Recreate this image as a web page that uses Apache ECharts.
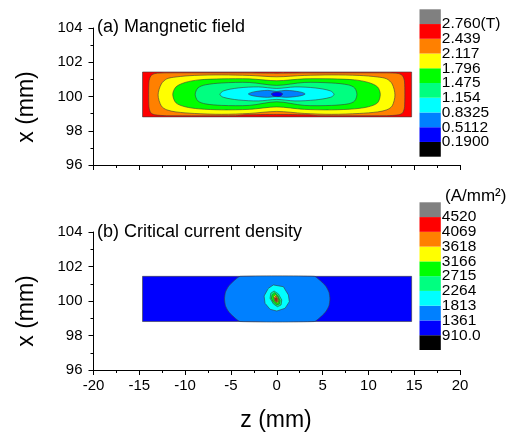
<!DOCTYPE html>
<html><head><meta charset="utf-8">
<script src="https://cdn.jsdelivr.net/npm/echarts@6/dist/echarts.min.js"></script>
<style>html,body{margin:0;padding:0;background:#fff}#c{width:516px;height:435px}</style>
</head><body><div id="c"></div>
<script>
// ---------- data ----------
const zTickRange = [-20, 20];
const xTickRange = [96, 104];
const bandColors = ['#000000','#0000ff','#0080ff','#00ffff','#00ff80','#00ff00','#ffff00','#ff8000','#ff0000','#808080'];
const fieldLevels = ['0.1900','0.5112','0.8325','1.154','1.475','1.796','2.117','2.439','2.760(T)'];
const jcLevels = ['910.0','1361','1813','2264','2715','3166','3618','4069','4520'];
const sampleZ = [-14.65, 14.72];
const sampleX = [98.81, 101.43];

// magnetic field contours: [z, x upper, x lower]
const fieldB2439 = [[-13.95,100.85,99.40],[-13.75,101.20,99.05],[-13.3,101.34,98.93],[-12.0,101.38,98.88],[-4.5,101.38,98.88],[-3.5,101.38,98.93],[0,101.36,98.95],[3.5,101.38,98.93],[4.5,101.38,98.88],[12.0,101.38,98.88],[13.3,101.34,98.93],[13.75,101.20,99.05],[13.95,100.85,99.40]];
const fieldB2117 = [[-12.95,100.09,100.09],[-12.6,100.73,99.45],[-12.0,101.03,99.22],[-11.0,101.14,99.10],[-9.0,101.23,99.01],[-6.0,101.26,98.96],[-3.0,101.23,99.01],[0,101.15,99.13],[3.0,101.23,99.01],[6.0,101.26,98.96],[9.0,101.23,99.01],[11.0,101.14,99.10],[12.0,101.03,99.22],[12.6,100.73,99.45],[12.9,100.09,100.09]];
const fieldB1796 = [[-11.35,100.12,100.12],[-11.0,100.56,99.63],[-10.0,100.82,99.40],[-8.5,100.97,99.28],[-6.0,101.03,99.22],[-3.0,101.03,99.25],[0,100.92,99.39],[3.0,101.03,99.25],[6.0,101.03,99.22],[8.5,100.97,99.28],[10.0,100.82,99.40],[11.0,100.56,99.63],[11.3,100.12,100.12]];
const fieldB1475 = [[-8.9,100.12,100.12],[-8.6,100.50,99.74],[-7.8,100.68,99.57],[-6.0,100.79,99.48],[-3.0,100.82,99.48],[0,100.65,99.69],[3.0,100.82,99.48],[6.0,100.79,99.48],[7.8,100.68,99.57],[8.5,100.50,99.74],[8.75,100.12,100.12]];
const fieldB1154 = [[-6.2,100.12,100.12],[-5.8,100.33,99.95],[-4.2,100.50,99.80],[-2.0,100.56,99.74],[0,100.47,99.83],[2.0,100.56,99.74],[4.2,100.50,99.80],[5.85,100.33,99.95],[6.25,100.12,100.12]];
const fieldB0833 = [[-3.1,100.15,100.15],[-2.5,100.27,100.03],[-1.0,100.36,99.95],[0,100.30,100.00],[1.0,100.36,99.95],[2.5,100.27,100.03],[3.1,100.15,100.15]];
const fieldB0511 = [[-0.6,100.15,100.15],[-0.3,100.24,100.01],[0.3,100.25,100.00],[0.65,100.15,100.15]];

// critical current density contours
const jc1361 = [[-5.7,100.12,100.12],[-5.6,100.51,99.73],[-5.3,100.82,99.42],[-5.0,101.01,99.23],[-4.5,101.25,98.99],[-4.0,101.43,98.81],[4.1,101.43,98.81],[4.6,101.25,98.99],[5.1,101.01,99.23],[5.4,100.82,99.42],[5.7,100.51,99.73],[5.8,100.12,100.12]];
const jc1813 = [[-1.38,100.29],[-0.91,100.74],[-0.37,100.93],[0.72,100.83],[1.27,100.35],[1.37,99.96],[0.91,99.58],[0.0,99.42],[-0.73,99.52],[-1.28,99.87]];
const jc2264 = [[-0.65,100.45],[-0.29,100.58],[0.18,100.41],[0.55,100.06],[0.47,99.77],[0.07,99.67],[-0.37,99.83],[-0.73,100.16]];
const jc2715 = [[-0.51,100.35],[-0.22,100.48],[0.14,100.29],[0.36,100.02],[0.28,99.83],[0.0,99.77],[-0.37,99.94],[-0.59,100.16]];
const jc3166 = [[-0.37,100.25],[-0.15,100.37],[0.11,100.21],[0.22,100.0],[0.07,99.87],[-0.22,99.98]];
const jc3618 = [[-0.26,100.21],[-0.08,100.29],[0.11,100.13],[0.11,99.96],[-0.08,99.94],[-0.22,100.06]];
const jc4069 = [[-0.15,100.17],[0.0,100.19],[0.03,100.06],[-0.04,99.98],[-0.15,100.06]];

// ---------- build ----------
function profileRing(p){
  const ring = p.map(q => [q[0], q[1]]);
  for (let i = p.length - 1; i >= 0; i--) { if (p[i][1] !== p[i][2]) ring.push([p[i][0], p[i][2]]); }
  return ring;
}
const rectRing = [[sampleZ[0],sampleX[0]],[sampleZ[0],sampleX[1]],[sampleZ[1],sampleX[1]],[sampleZ[1],sampleX[0]]];
const fieldShapes = [
  {ring: rectRing, band: 8, smooth: 0},
  {ring: profileRing(fieldB2439), band: 7, smooth: 0.25},
  {ring: profileRing(fieldB2117), band: 6, smooth: 0.3},
  {ring: profileRing(fieldB1796), band: 5, smooth: 0.3},
  {ring: profileRing(fieldB1475), band: 4, smooth: 0.3},
  {ring: profileRing(fieldB1154), band: 3, smooth: 0.3},
  {ring: profileRing(fieldB0833), band: 2, smooth: 0.3},
  {ring: profileRing(fieldB0511), band: 1, smooth: 0.3}
];
const jcShapes = [
  {ring: rectRing, band: 1, smooth: 0},
  {ring: profileRing(jc1361), band: 2, smooth: 0.2},
  {ring: jc1813, band: 3, smooth: 0},
  {ring: jc2264, band: 4, smooth: 0},
  {ring: jc2715, band: 5, smooth: 0},
  {ring: jc3166, band: 6, smooth: 0},
  {ring: jc3618, band: 7, smooth: 0},
  {ring: jc4069, band: 8, smooth: 0}
];
function contourSeries(shapes, gi){
  return {
    type: 'custom', xAxisIndex: gi, yAxisIndex: gi, silent: true, animation: false,
    data: shapes.map((s, i) => [0, 100, i]),
    encode: {x: 0, y: 1},
    renderItem: function(params, api){
      const s = shapes[api.value(2)];
      return {type: 'polygon', shape: {points: s.ring.map(p => api.coord(p)), smooth: s.smooth},
        style: {fill: bandColors[s.band], stroke: '#3a3a3a', lineWidth: 0.6}};
    }
  };
}
function barSeries(gi){
  return {
    type: 'custom', xAxisIndex: gi, yAxisIndex: gi, silent: true, animation: false,
    data: bandColors.map((c, i) => [0, i]),
    encode: {x: 0, y: 1},
    renderItem: function(params, api){
      const i = api.value(1);
      const a = api.coord([0, i]), b = api.coord([1, i + 1]);
      return {type: 'rect', shape: {x: a[0], y: b[1], width: b[0] - a[0], height: a[1] - b[1]},
        style: {fill: bandColors[i]}};
    }
  };
}
const font = '"Liberation Sans", Arial, sans-serif';
function mainX(gi, showLabel){
  return {type: 'value', gridIndex: gi, min: zTickRange[0], max: zTickRange[1], interval: 5,
    axisLine: {show: true, onZero: false, lineStyle: {color: '#000', width: 1}},
    axisTick: {show: true, length: 5, lineStyle: {color: '#000'}},
    minorTick: {show: true, splitNumber: 2, length: 3, lineStyle: {color: '#000'}},
    splitLine: {show: false},
    axisLabel: {show: showLabel, color: '#000', fontSize: 15, fontFamily: font, margin: 8}};
}
function mainY(gi){
  return {type: 'value', gridIndex: gi, min: xTickRange[0], max: xTickRange[1], interval: 2,
    axisLine: {show: true, onZero: false, lineStyle: {color: '#000', width: 1}},
    axisTick: {show: true, length: 5, lineStyle: {color: '#000'}},
    minorTick: {show: true, splitNumber: 2, length: 3, lineStyle: {color: '#000'}},
    splitLine: {show: false},
    axisLabel: {color: '#000', fontSize: 15, fontFamily: font, margin: 11}};
}
function barX(gi){
  return {type: 'value', gridIndex: gi, min: 0, max: 1, show: false};
}
function barY(gi, labels){
  return {type: 'value', gridIndex: gi, min: 0, max: 10, interval: 1, position: 'right',
    axisLine: {show: false}, axisTick: {show: false}, splitLine: {show: false},
    axisLabel: {color: '#000', fontSize: 15.5, fontFamily: font, margin: 1,
      formatter: v => (v >= 1 && v <= 9) ? labels[v - 1] : ''}};
}
const chart = echarts.init(document.getElementById('c'), null, {renderer: 'canvas'});
chart.setOption({
  backgroundColor: '#fff',
  animation: false,
  grid: [
    {left: 93.5, top: 28, width: 366.5, height: 137},
    {left: 93.5, top: 232, width: 366.5, height: 138},
    {left: 419.5, top: 9.3, width: 21.3, height: 147.4},
    {left: 419.5, top: 202.3, width: 21.3, height: 147.7}
  ],
  xAxis: [mainX(0, false), mainX(1, true), barX(2), barX(3)],
  yAxis: [mainY(0), mainY(1), barY(2, fieldLevels), barY(3, jcLevels)],
  series: [contourSeries(fieldShapes, 0), contourSeries(jcShapes, 1), barSeries(2), barSeries(3)],
  graphic: [
    {type: 'text', left: 97, top: 18, style: {text: '(a) Mangnetic field', font: '18px ' + font, fill: '#000'}},
    {type: 'text', left: 97, top: 223, style: {text: '(b) Critical current density', font: '18px ' + font, fill: '#000'}},
    {type: 'text', x: 445, y: 196, style: {text: '(A/mm²)', font: '17px ' + font, fill: '#000', verticalAlign: 'middle'}},
    {type: 'text', x: 27, y: 107, rotation: Math.PI / 2, style: {text: 'x (mm)', font: '23px ' + font, fill: '#000', align: 'center', verticalAlign: 'middle'}},
    {type: 'text', x: 27, y: 311, rotation: Math.PI / 2, style: {text: 'x (mm)', font: '23px ' + font, fill: '#000', align: 'center', verticalAlign: 'middle'}},
    {type: 'text', x: 276, y: 421, style: {text: 'z (mm)', font: '23px ' + font, fill: '#000', align: 'center', verticalAlign: 'middle'}}
  ]
});
</script></body></html>
